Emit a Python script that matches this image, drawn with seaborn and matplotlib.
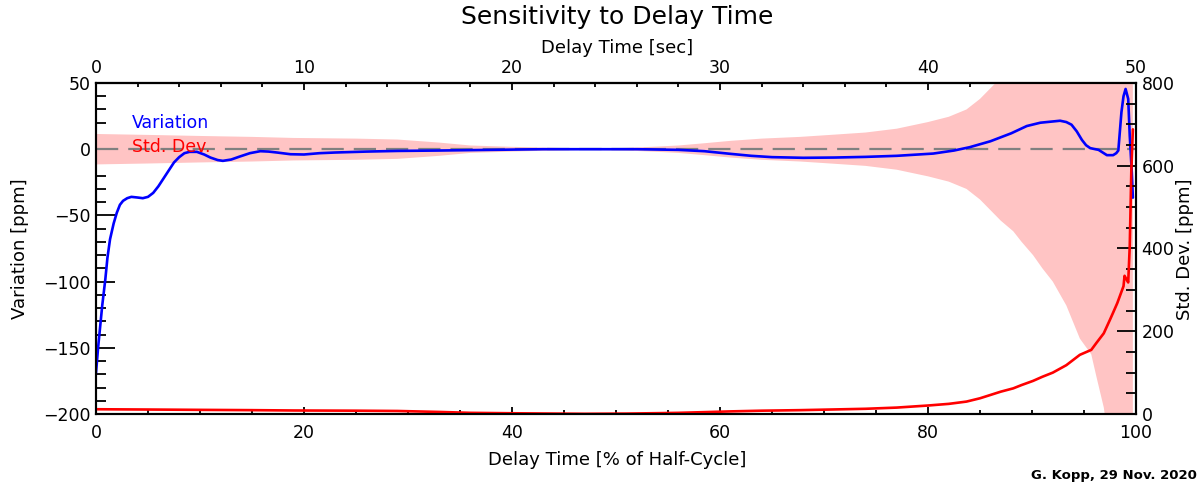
import numpy as np
import pandas as pd
import matplotlib
matplotlib.use("Agg")
import matplotlib.pyplot as plt
from matplotlib.ticker import MultipleLocator
import seaborn as sns

# variation vs delay time (% of half-cycle)
var_x = [0, 0.2, 0.4, 0.6, 0.9, 1.1, 1.35, 1.7, 2.0, 2.3, 2.6, 3.0, 3.4, 4.0, 4.5,
         5.0, 5.5, 6.0, 6.5, 7.0, 7.5, 8.0, 8.5, 9.0, 9.7, 10.4, 11.0, 11.7, 12.2,
         13.0, 13.8, 14.8, 15.8, 16.6, 17.4, 18.7, 20, 21.5, 23, 26, 29, 33, 38,
         43, 48, 52, 56, 58.5, 61, 63, 65, 68, 71, 74, 77, 80.5, 82.5, 84, 86, 88,
         89.5, 90.8, 92.7, 93.3, 93.8, 94.3, 94.8, 95.2, 95.6, 96.4, 96.9, 97.2, 97.8,
         98.1, 98.3, 98.6, 98.8, 99.0, 99.25, 99.4, 99.6, 99.7]
var_y = [-169, -150, -134, -118, -98, -82, -68, -56, -48, -42, -39, -37, -36, -36.5, -37,
         -36, -33, -28, -22, -16, -10, -6, -3, -2, -2, -4, -6.3, -8.2, -8.8,
         -7.8, -5.6, -3, -1.5, -1.8, -2.5, -3.8, -4, -3, -2.5, -1.8, -1.3, -1, -0.5,
         0, 0, 0, -0.5, -1.5, -3.5, -5, -6, -6.5, -6.3, -5.8, -5, -3.3, -1, 1.5, 6, 12,
         17.5, 20, 21.5, 20.5, 18.5, 13.5, 7, 3, 0.8, -0.5, -3, -4.5, -4.5,
         -3, -1, 28, 40, 45.5, 38, 10, -17.7, -36.6]

# standard deviation (ppm), red curve and pink +/- band
std_x = [0, 5, 10, 15, 19, 25, 29, 33, 36, 40, 43, 47, 51, 54, 56, 58.5, 61, 64,
         67.7, 71, 74, 77, 80, 82, 83.7, 85, 86, 87, 88.2, 89, 90.1, 91, 92, 93.3,
         94.6, 95.7, 96.2, 96.9, 97.5, 97.8, 98.2, 98.8, 98.9, 99.1, 99.25, 99.4,
         99.55, 99.7]
std_y = [11.5, 10.8, 10, 9.3, 8.5, 8, 7.3, 5, 2.8, 1.8, 1.2, 0.5, 1, 2, 2.8, 4.5, 6.3, 8,
         9.3, 11, 12.6, 15.5, 20.5, 24.5, 30, 38, 46, 54, 62, 70, 80, 90, 100, 118,
         143, 155, 172, 195, 228, 245, 268, 309, 334, 325, 318, 407,
         587, 688]

pct_ticks = [0, 20, 40, 60, 80, 100]
sec_ticks = [0, 10, 20, 30, 40, 50]

var_df = pd.DataFrame({"pct": var_x, "variation": var_y})
std_df = pd.DataFrame({"pct": std_x, "std": std_y})

sns.set_style("ticks", {"axes.edgecolor": "black", "text.color": "black",
                        "axes.labelcolor": "black", "xtick.color": "black",
                        "ytick.color": "black"})
plt.rcParams["font.family"] = ["DejaVu Sans"]
plt.rcParams["axes.linewidth"] = 1.5

fig = plt.figure(figsize=(12.03, 4.84), dpi=100)
ax = fig.add_axes([96 / 1203, 70 / 484, 1040 / 1203, 331 / 484])

# pink band = 0 +/- std dev
ax.fill_between(std_df["pct"], -std_df["std"], std_df["std"],
                color="#ffc4c4", linewidth=0, zorder=1)
ax.axhline(0, color="#808080", lw=1.6, dashes=(10, 4.5), zorder=2)
sns.lineplot(data=var_df, x="pct", y="variation", ax=ax, color="blue", lw=1.9, zorder=3)

ax.set_xlim(0, 100)
ax.set_ylim(-200, 50)
ax.set_xlabel("")
ax.set_ylabel("")
ax.set_xticks(pct_ticks)
ax.xaxis.set_minor_locator(MultipleLocator(5))
ax.yaxis.set_major_locator(MultipleLocator(50))
ax.yaxis.set_minor_locator(MultipleLocator(10))
ax.tick_params(axis="x", which="major", direction="in", length=5, width=1.3, pad=7, labelsize=12.5)
ax.tick_params(axis="x", which="minor", direction="in", length=3, width=1.3)
ax.tick_params(axis="y", which="major", direction="in", length=14, width=1.3, pad=4, labelsize=12.5)
ax.tick_params(axis="y", which="minor", direction="in", length=7, width=1.3)

ax.text(3.4, 19.7, "Variation", color="blue", fontsize=12.5, va="center", ha="left")
ax.text(3.5, 1.5, "Std. Dev.", color="red", fontsize=12.5, va="center", ha="left")

# right axis: std dev
ax2 = ax.twinx()
sns.lineplot(data=std_df, x="pct", y="std", ax=ax2, color="red", lw=1.9)
ax2.set_ylim(0, 800)
ax2.set_xlim(0, 100)
ax2.set_ylabel("")
ax2.yaxis.set_major_locator(MultipleLocator(200))
ax2.yaxis.set_minor_locator(MultipleLocator(50))
ax2.tick_params(axis="y", which="major", direction="in", length=14, width=1.3, pad=4, labelsize=12.5)
ax2.tick_params(axis="y", which="minor", direction="in", length=7, width=1.3)

# top axis: delay time in seconds
sec = ax.secondary_xaxis("top", functions=(lambda p: p / 2, lambda s: s * 2))
sec.set_xticks(sec_ticks)
sec.xaxis.set_minor_locator(MultipleLocator(2))
sec.tick_params(axis="x", which="major", direction="in", length=5, width=1.3, pad=4, labelsize=12.5)
sec.tick_params(axis="x", which="minor", direction="in", length=3, width=1.3)

fig.text(0.5127, 1 - 17 / 484, "Sensitivity to Delay Time", fontsize=18, ha="center", va="center")
fig.text(0.5127, 1 - 48 / 484, "Delay Time [sec]", fontsize=13, ha="center", va="center")
fig.text(0.5127, 1 - 460 / 484, "Delay Time [% of Half-Cycle]", fontsize=13, ha="center", va="center")
fig.text(20 / 1203, 1 - 249 / 484, "Variation [ppm]", fontsize=13, rotation=90, ha="center", va="center")
fig.text(1185 / 1203, 1 - 249 / 484, "Std. Dev. [ppm]", fontsize=13, rotation=90, ha="center", va="center")
fig.text(1197 / 1203, 1 - 475 / 484, "G. Kopp, 29 Nov. 2020", fontsize=9.5, fontweight="bold",
         ha="right", va="center")

fig.savefig("out.png", dpi=100)
